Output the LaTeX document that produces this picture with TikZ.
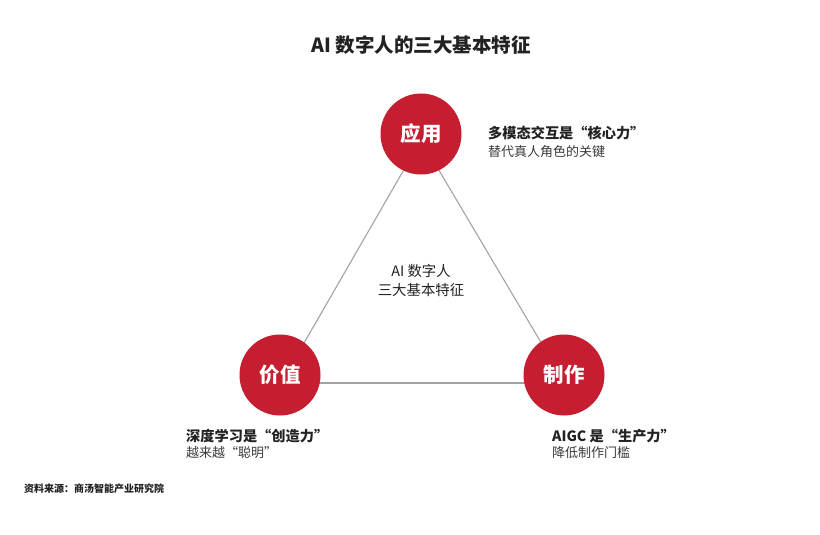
\documentclass[tikz,border=0pt]{standalone}
\usepackage{fontspec}
\setmainfont{Noto Sans CJK SC}
\newfontfamily\cjk{Noto Sans CJK SC}
\definecolor{circred}{HTML}{C41E30}
\definecolor{linegray}{HTML}{A3A3A3}
\definecolor{txtdark}{HTML}{222222}
\definecolor{txtgray}{HTML}{3A3A3A}
\tikzset{
  pillar/.style={circle, fill=circred, minimum size=81pt, inner sep=0pt, text=white, font=\cjk\bfseries\fontsize{20.5}{20.5}\selectfont},
  edge/.style={draw=linegray, line width=1.1pt},
  headtxt/.style={anchor=west, inner sep=0pt, text=txtdark, font=\cjk\bfseries\fontsize{14.2}{14.2}\selectfont},
  subtxt/.style={anchor=west, inner sep=0pt, text=txtgray, font=\cjk\fontsize{13}{13}\selectfont},
  centertxt/.style={inner sep=0pt, text=txtdark, font=\cjk\fontsize{14.4}{14.4}\selectfont},
}
\begin{document}
\begin{tikzpicture}[x=1pt,y=-1pt]
\useasboundingbox[fill=white] (0,0) rectangle (820,535);
% title
\node[inner sep=0pt, text=txtdark, font=\cjk\bfseries\fontsize{19.5}{19.5}\selectfont] (title) at (421,45) {AI 数字人的三大基本特征};
% triangle vertices
\coordinate (vt) at (421,140);
\coordinate (vl) at (281,383);
\coordinate (vr) at (565,383);
\draw[edge] (vt) -- (vl);
\draw[edge] (vt) -- (vr);
\draw[edge] (vl) -- (vr);
% circles
\node[pillar] (app) at (421,134) {应用};
\node[pillar] (val) at (280,375) {价值};
\node[pillar] (make) at (564,375) {制作};
% center
\node[centertxt] (c1) at (421,271) {AI 数字人};
\node[centertxt] (c2) at (421,290) {三大基本特征};
% labels
\node[headtxt] (a1) at (488,133) {多模态交互是“核心力”};
\node[subtxt] (a2) at (488,152) {替代真人角色的关键};
\node[headtxt] (l1) at (186,436) {深度学习是“创造力”};
\node[subtxt] (l2) at (186,453) {越来越“聪明”};
\node[headtxt] (r1) at (552,436) {AIGC 是“生产力”};
\node[subtxt] (r2) at (552,453) {降低制作门槛};
% source
\node[anchor=west, inner sep=0pt, text=txtdark, font=\cjk\bfseries\fontsize{10}{10}\selectfont] (src) at (24,489) {资料来源：商汤智能产业研究院};
\end{tikzpicture}
\end{document}
